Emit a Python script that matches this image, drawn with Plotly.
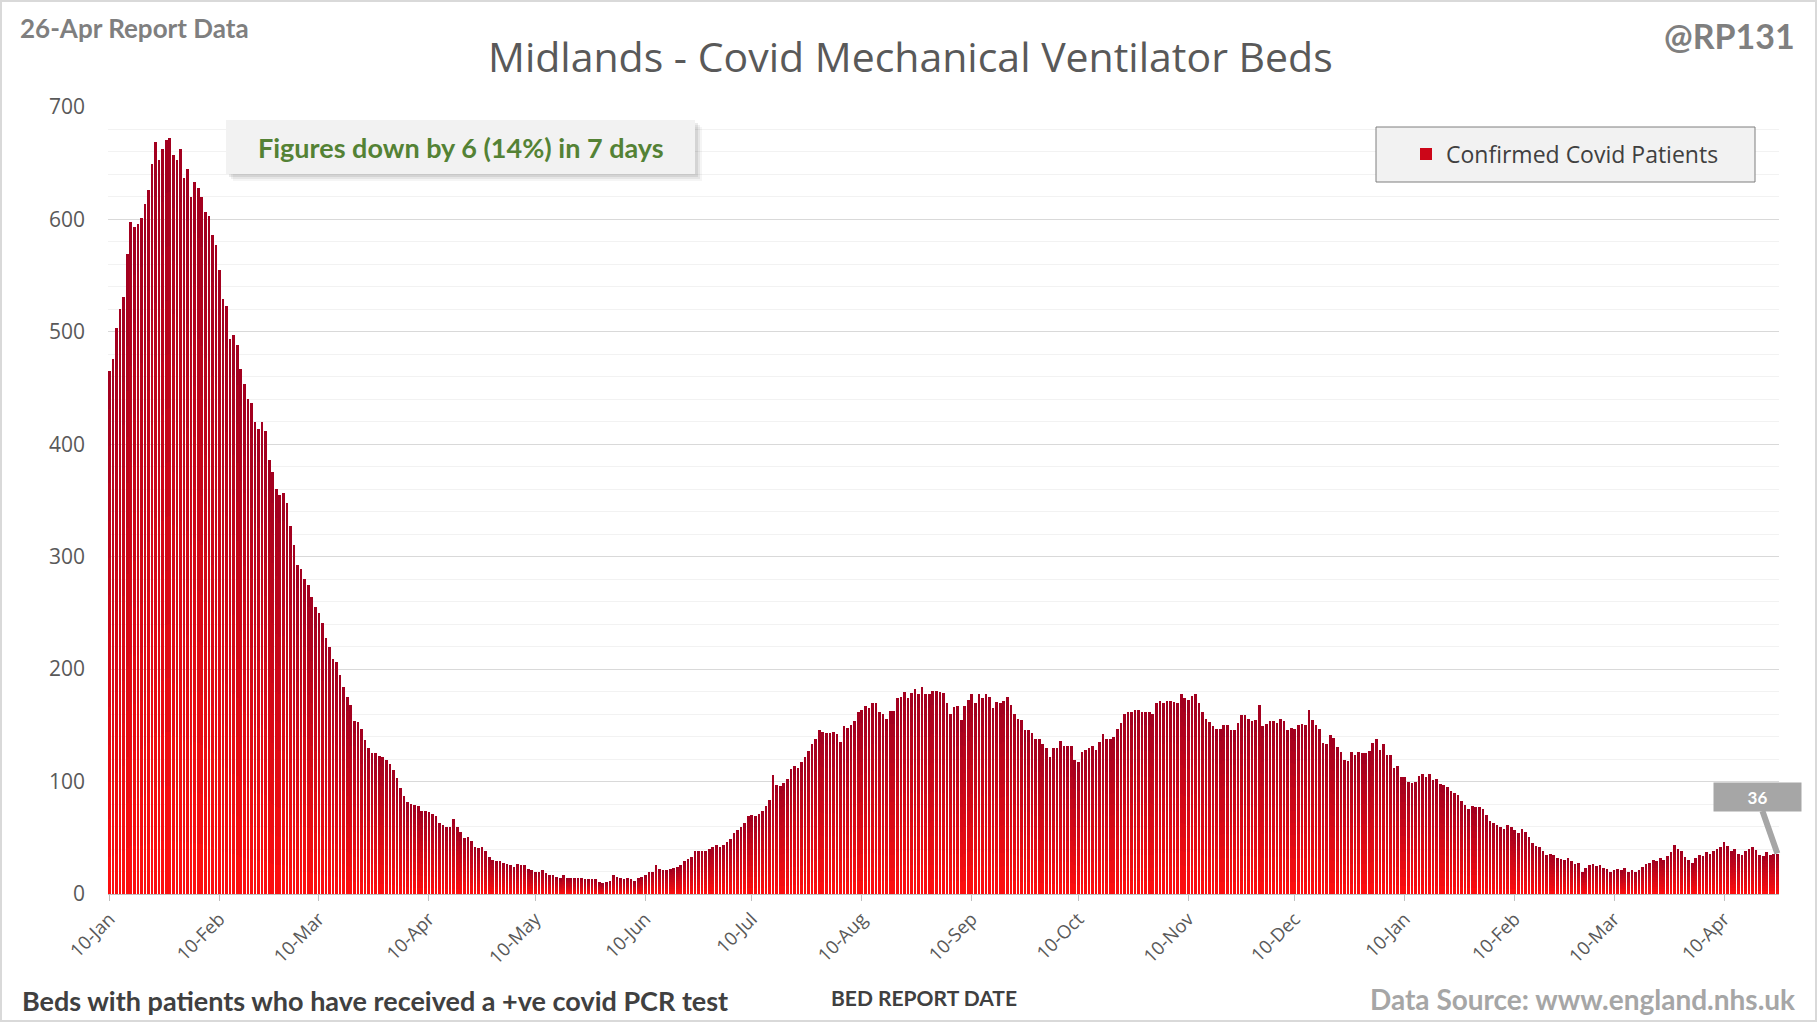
import numpy as np
import pandas as pd
import plotly.graph_objects as go

# ---------------- data (daily values) ----------------
START_DATE = "2021-01-10"

beds_jan_mar_2021 = [
    465, 476, 503, 520, 531, 569, 598, 593, 596, 601, 614, 626, 649, 669, 653, 663, 671, 672, 657, 653,
    663, 637, 645, 620, 633, 628, 620, 607, 603, 586, 577, 555, 529, 523, 494, 497, 488, 467, 454, 440,
    437, 420, 414, 420, 412, 386, 375, 360, 355, 357, 348, 327, 310, 293, 289, 280, 275, 264, 255, 250,
    241, 228, 220, 209, 206, 195, 184, 175, 168, 154, 153, 147, 137, 130, 125, 125, 123, 122, 119, 116,
    110,
]
beds_apr_jun_2021 = [
    103, 94, 87, 82, 80, 79, 78, 74, 74, 73, 71, 69, 63, 61, 60, 60, 67, 60, 55, 50,
    51, 47, 42, 41, 42, 38, 33, 30, 29, 29, 28, 27, 26, 24, 27, 26, 26, 22, 21, 20,
    20, 21, 19, 17, 17, 15, 14, 17, 14, 14, 14, 14, 14, 13, 13, 13, 13, 10, 9, 10, 11,
    17, 15, 14, 13, 14, 13, 11, 14, 15, 17, 20, 20, 26, 22, 21, 21, 22, 23, 24,
    26, 29, 31, 33, 38, 38, 38, 38, 40, 42, 44,
]
beds_jul_sep_2021 = [
    42, 44, 46, 49, 54, 57, 60, 63, 69, 70, 69, 71, 74, 78, 84,
    106, 97, 96, 99, 102,
    111, 114, 112, 117, 122, 127, 133, 138, 146, 144, 143, 143, 144, 142, 135, 149, 148, 150, 154, 162,
    164, 167, 165, 170, 170, 162, 160, 156, 163,
    163, 174, 175, 180, 174, 179, 182, 178, 184, 178, 178, 181, 181, 180, 179, 170, 160, 166, 167, 155,
    167, 173, 178, 170, 178, 174, 178, 175, 165, 171, 170, 172, 175, 168, 160, 156, 155, 146, 146, 143,
    138, 138, 133,
]
beds_oct_dec_2021 = [
    130, 122, 130, 130, 136, 132, 132, 132, 119, 117, 126, 128, 130, 132, 128, 135, 142, 138, 138, 140,
    147, 152, 160, 162, 162, 164, 164, 162, 162, 162, 160,
    170, 172, 170, 172, 172, 171, 170, 178, 174, 173, 176, 178, 170, 162, 156, 153, 149, 147, 147, 150,
    150, 146, 146, 152, 159, 159, 156, 154, 155, 168, 149, 151, 154, 154, 152, 156, 154, 146, 148, 147,
    150, 151, 150, 164, 155, 150, 147, 134, 133, 141, 139, 131, 126, 119, 118, 126, 124, 126, 125, 125,
    127,
]
beds_jan_apr_2022 = [
    134, 138, 128, 133, 124, 124, 112, 114, 104,
    104, 100, 99, 100, 105, 107, 104, 107, 101, 102,
    98, 97, 95, 92, 90, 88, 83, 79, 76, 78, 77, 77, 76, 70, 65, 63, 61, 60, 58, 61,
    60, 57, 54, 58, 55, 51, 45, 43, 42, 38, 35, 36, 35, 32, 31,
    30, 32, 29, 27, 28, 20, 23, 26, 27, 25, 26, 23, 22, 20, 21, 22, 21, 23, 20, 21,
    20, 21, 24, 27, 28, 30, 29, 32, 30, 34, 37, 44, 40, 38, 33, 30, 28, 32, 35, 34,
    37, 36, 38, 40, 42, 46, 43, 38, 40, 36, 35, 38, 40, 42, 39, 35, 34, 37, 35, 36,
    36,
]

Y_TICKS = [0, 100, 200, 300, 400, 500, 600, 700]

TITLE = "Midlands - Covid Mechanical Ventilator Beds"
SERIES_NAME = "Confirmed Covid Patients"
REPORT_LABEL = "26-Apr Report Data"
HANDLE = "@RP131"
FOOT_LEFT = "Beds with patients who have received a +ve covid PCR test"
X_TITLE = "BED REPORT DATE"
SOURCE = "Data Source: www.england.nhs.uk"

values = (beds_jan_mar_2021 + beds_apr_jun_2021 + beds_jul_sep_2021
          + beds_oct_dec_2021 + beds_jan_apr_2022)
dates = pd.date_range(START_DATE, periods=len(values), freq="D")

week_ago = values[-8]
change = week_ago - values[-1]
pct = round(100 * change / week_ago)
SUMMARY = f"Figures {'down' if change >= 0 else 'up'} by {abs(change)} ({pct}%) in 7 days"

# ---------------- layout geometry (pixels) ----------------
W, H = 1817, 1022
PL, PR, PT, PB = 108, 1779, 107, 894


def px(x):
    return (x - PL) / (PR - PL)


def py(y):
    return (PB - y) / (PB - PT)


fig = go.Figure()

# vertical gradient per bar: stacked slices from bright red (bottom) to dark red (top)
N = 14
bottom_c = np.array([255, 14, 14])
top_c = np.array([160, 0, 32])
for k in range(N):
    f = (k + 0.5) / N
    c = bottom_c + (top_c - bottom_c) * f
    fig.add_trace(go.Bar(
        x=dates,
        y=[v / N for v in values],
        marker=dict(color=f"rgb({c[0]:.0f},{c[1]:.0f},{c[2]:.0f})", line=dict(width=0)),
        name=SERIES_NAME,
        showlegend=(k == N // 2),
        hoverinfo="skip",
    ))

shapes = []
# outer border
shapes.append(dict(type="rect", xref="paper", yref="paper",
                   x0=px(1), x1=px(W - 1), y0=py(H - 1), y1=py(1),
                   line=dict(color="#D9D9D9", width=2), fillcolor="rgba(0,0,0,0)", layer="above"))
# summary box with soft shadow
bx0, bx1, by0, by1 = 226, 695, 120, 174
for off, a in [(7, 0.04), (5, 0.06), (3, 0.08)]:
    shapes.append(dict(type="rect", xref="paper", yref="paper",
                       x0=px(bx0 + off), x1=px(bx1 + off), y0=py(by1 + off), y1=py(by0 + off),
                       line=dict(width=0), fillcolor=f"rgba(0,0,0,{a})", layer="above"))
shapes.append(dict(type="rect", xref="paper", yref="paper",
                   x0=px(bx0), x1=px(bx1), y0=py(by1), y1=py(by0),
                   line=dict(width=0), fillcolor="#F2F2F2", layer="above"))
# legend box
shapes.append(dict(type="rect", xref="paper", yref="paper",
                   x0=px(1376), x1=px(1755), y0=py(182), y1=py(127),
                   line=dict(color="#7F7F7F", width=1), fillcolor="#F2F2F2", layer="above"))

annotations = [
    dict(text=TITLE, xref="paper", yref="paper", x=px(910), y=py(56),
         xanchor="center", yanchor="middle", showarrow=False,
         font=dict(family="Open Sans", size=41, color="#595959")),
    dict(text=f"<b>{REPORT_LABEL}</b>", xref="paper", yref="paper", x=px(18), y=py(28),
         xanchor="left", yanchor="middle", showarrow=False,
         font=dict(family="Lato", size=26, color="#7F7F7F")),
    dict(text=f"<b>{HANDLE}</b>", xref="paper", yref="paper", x=px(1797), y=py(36),
         xanchor="right", yanchor="middle", showarrow=False,
         font=dict(family="Lato", size=34, color="#7F7F7F")),
    dict(text=f"<b>{FOOT_LEFT}</b>", xref="paper", yref="paper", x=px(20), y=py(1000),
         xanchor="left", yanchor="middle", showarrow=False,
         font=dict(family="Lato", size=27, color="#404040")),
    dict(text=f"<b>{X_TITLE}</b>", xref="paper", yref="paper", x=px(924), y=py(997),
         xanchor="center", yanchor="middle", showarrow=False,
         font=dict(family="Lato", size=21, color="#404040")),
    dict(text=f"<b>{SOURCE}</b>", xref="paper", yref="paper", x=px(1797), y=py(999),
         xanchor="right", yanchor="middle", showarrow=False,
         font=dict(family="Lato", size=28, color="#A6A6A6")),
    dict(text=f"<b>{SUMMARY}</b>", xref="paper", yref="paper", x=px((bx0 + bx1) / 2), y=py((by0 + by1) / 2),
         xanchor="center", yanchor="middle", showarrow=False,
         font=dict(family="Lato", size=27, color="#548235")),
    dict(text=f"<b>{values[-1]}</b>", x=dates[-1], y=values[-1], xref="x", yref="y",
         showarrow=True, arrowhead=0, arrowwidth=6, arrowcolor="#A6A6A6",
         ax=-20, ay=-57, bgcolor="#A6A6A6", width=85, height=26,
         font=dict(family="Lato", size=17, color="white")),
]

fig.update_layout(
    width=W, height=H,
    margin=dict(l=PL, r=W - PR, t=PT, b=H - PB, pad=0),
    paper_bgcolor="white", plot_bgcolor="white",
    barmode="stack", bargap=0.25,
    showlegend=True,
    legend=dict(x=px(1406), y=py(154), xanchor="left", yanchor="middle",
                bgcolor="rgba(0,0,0,0)", borderwidth=0, itemwidth=30,
                font=dict(family="Open Sans", size=23, color="#404040")),
    shapes=shapes,
    annotations=annotations,
    xaxis=dict(
        type="date",
        range=[dates[0] - pd.Timedelta(hours=10), dates[-1] + pd.Timedelta(hours=11)],
        tick0=START_DATE, dtick="M1", tickformat="%d-%b", tickangle=-45,
        tickfont=dict(family="Open Sans", size=18.5, color="#595959"),
        ticks="outside", ticklen=6, tickcolor="#BFBFBF",
        showline=True, linecolor="#BFBFBF", linewidth=1,
        showgrid=False, zeroline=False,
    ),
    yaxis=dict(
        range=[0, 700], tickvals=Y_TICKS,
        tickfont=dict(family="Open Sans", size=21, color="#595959"),
        showgrid=True, gridcolor="#D9D9D9", gridwidth=1,
        minor=dict(dtick=20, showgrid=True, gridcolor="#F2F2F2", gridwidth=1),
        zeroline=False, showline=False, ticks="", ticklabelstandoff=22,
    ),
)

fig.write_html("out.html", config={"displayModeBar": False},
               post_script="document.body.style.margin='0';document.body.style.overflow='hidden';")
